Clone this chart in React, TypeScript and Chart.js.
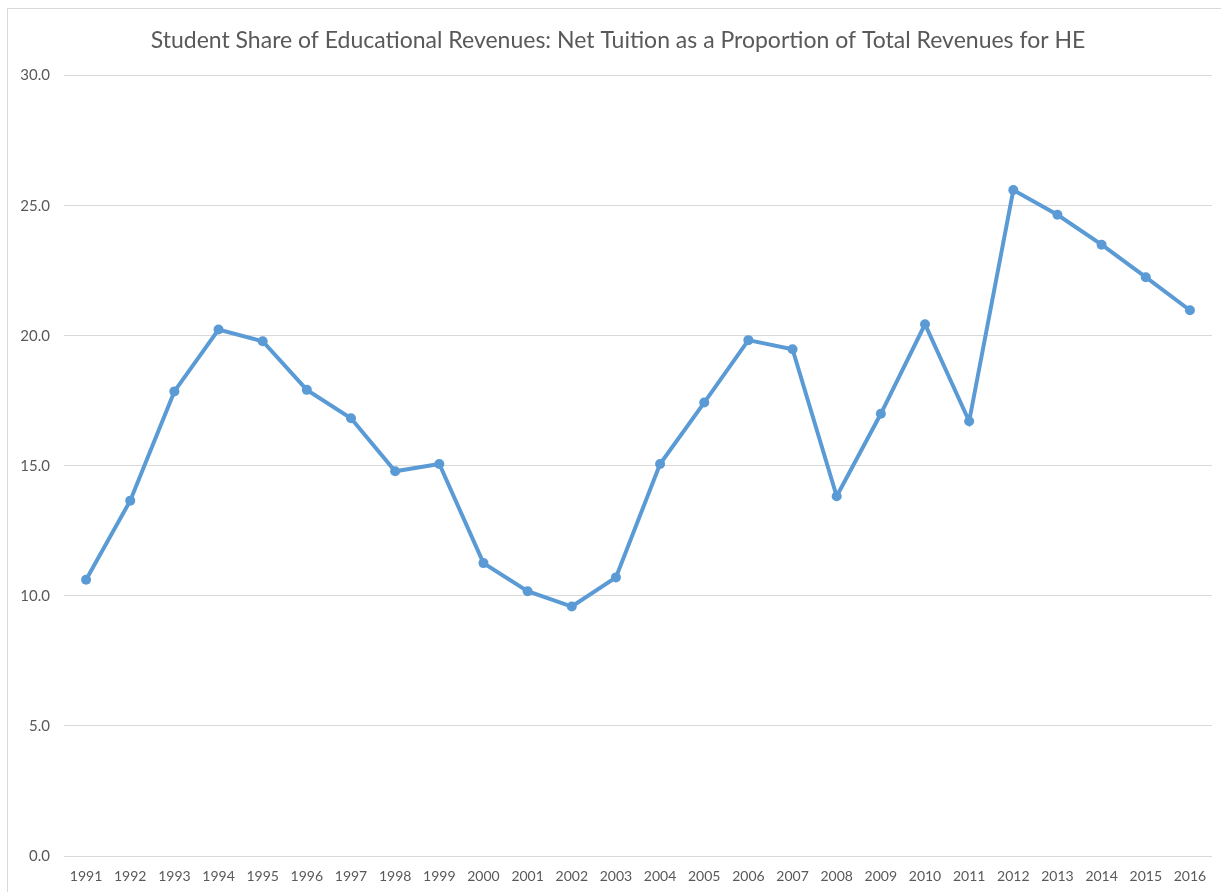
import React, { useEffect, useRef } from "react";
import { Chart, registerables } from "chart.js";

Chart.register(...registerables);

const years = [
  "1991", "1992", "1993", "1994", "1995", "1996", "1997", "1998", "1999", "2000",
  "2001", "2002", "2003", "2004", "2005", "2006", "2007", "2008", "2009", "2010",
  "2011", "2012", "2013", "2014", "2015", "2016",
];

const studentShare = [
  10.62, 13.66, 17.86, 20.24, 19.79, 17.92, 16.83, 14.79, 15.07, 11.26,
  10.18, 9.59, 10.71, 15.07, 17.43, 19.83, 19.48, 13.83, 17.0, 20.44,
  16.71, 25.6, 24.65, 23.5, 22.25, 20.98,
];

const yTicks = [0, 5, 10, 15, 20, 25, 30];

const titleText =
  "Student Share of Educational Revenues: Net Tuition as a Proportion of Total Revenues for HE";

const shiftTitle = {
  id: "shiftTitle",
  afterLayout(chart: any) {
    const t = chart.titleBlock;
    if (t) {
      t.left += 12;
      t.right += 12;
    }
  },
};

export default function App() {
  const ref = useRef<HTMLCanvasElement | null>(null);

  useEffect(() => {
    if (!ref.current) return;
    const chart = new Chart(ref.current, {
      type: "line",
      data: {
        labels: years,
        datasets: [
          {
            label: "Student Share",
            data: studentShare,
            borderColor: "#5B9BD5",
            backgroundColor: "#5B9BD5",
            borderWidth: 4,
            pointRadius: 5,
            pointBorderWidth: 0,
            pointBackgroundColor: "#5B9BD5",
            tension: 0,
          },
        ],
      },
      options: {
        responsive: false,
        animation: false,
        layout: { padding: { left: 0, right: 9, top: 0, bottom: 0 } },
        plugins: {
          legend: { display: false },
          tooltip: { enabled: false },
          title: {
            display: true,
            text: titleText,
            color: "#595959",
            font: { family: "Lato", size: 23, weight: "normal" },
            padding: { top: 27, bottom: 21 },
          },
        },
        scales: {
          x: {
            offset: true,
            afterFit: (scale: any) => {
              scale.height = 36;
            },
            grid: { display: false, drawTicks: false },
            border: { display: false },
            ticks: {
              color: "#595959",
              font: { family: "Lato", size: 14 },
              padding: 12,
              maxRotation: 0,
              autoSkip: false,
            },
          },
          y: {
            min: 0,
            max: 30,
            afterFit: (scale: any) => {
              scale.width = 64;
            },
            afterBuildTicks: (scale: any) => {
              scale.ticks = yTicks.map((v) => ({ value: v }));
            },
            grid: { color: "#d9d9d9", lineWidth: 1, drawTicks: false },
            border: { display: false },
            ticks: {
              color: "#595959",
              font: { family: "Lato", size: 15 },
              padding: 14,
              callback: (v: any) => Number(v).toFixed(1),
            },
          },
        },
      },
      plugins: [shiftTitle],
    });
    return () => chart.destroy();
  }, []);

  return (
    <>
      <div
        style={{
          position: "fixed",
          left: 7,
          top: 8,
          width: 1400,
          height: 1100,
          border: "1.5px solid #d9d9d9",
          boxSizing: "border-box",
        }}
      />
      <canvas
        ref={ref}
        width={1221}
        height={892}
        style={{ position: "fixed", left: 0, top: 0, width: 1221, height: 892 }}
      />
    </>
  );
}
